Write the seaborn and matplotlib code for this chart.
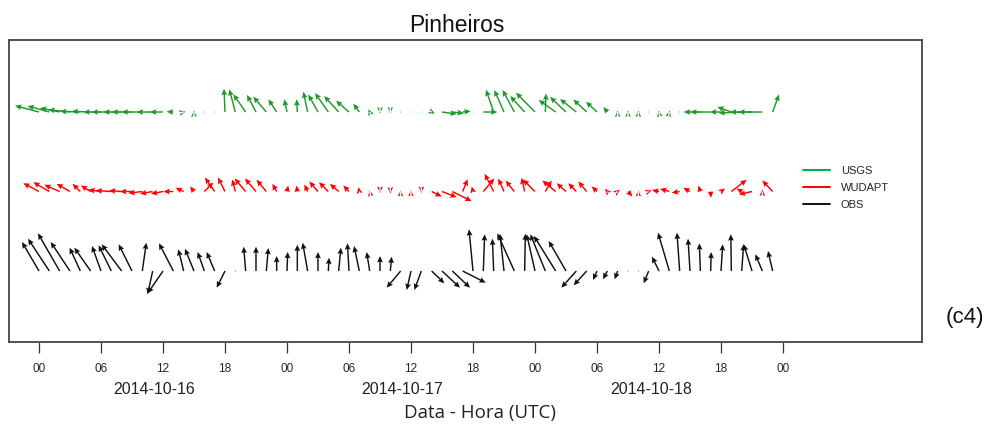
import numpy as np
import pandas as pd
import seaborn as sns
import matplotlib
matplotlib.use("Agg")
import matplotlib.pyplot as plt
import matplotlib.transforms as mtransforms
from matplotlib.lines import Line2D

# Hourly wind vectors at Pinheiros, 2014-10-16 00 UTC .. 2014-10-18 23 UTC
hours = list(range(72))

# OBS (u, v) [m/s]
obs_u = [-1.70, -2.13, -2.17, -1.93, -1.07, -1.63, -0.90, -1.27, -2.00, -1.33,
         0.40, -0.50, -1.53, -1.43, -0.53, -0.90, -0.67, -0.80, -0.83, 0.03,
         -0.20, 0.00, 0.20, 0.00, 0.07, 0.00, -0.50, 0.00, 0.07, 0.23,
         -0.16, -0.53, -0.30, 0.00, 0.13, -1.40, -0.43, -0.70, 1.27, 1.80,
         1.77, 2.30, -0.40, 0.13, -0.13, -0.40, -1.70, 0.07, -0.83, -1.50,
         -2.17, -1.73, -1.50, -1.30, -0.40, -0.43, -0.30, 0.02, 0.02, -0.50,
         -0.70, -1.13, -0.27, -0.20, -0.10, 0.05, 0.17, -0.05, 0.20, -0.83,
         -0.70, -0.47]
obs_v = [2.90, 3.23, 3.77, 2.90, 2.33, 2.33, 2.50, 2.57, 2.67, 2.67,
         2.83, -2.33, -2.23, 2.77, 2.17, 2.23, 1.90, 1.90, -1.67, 0.02,
         2.43, 2.43, 2.30, 1.50, 1.90, 2.63, 2.83, 1.90, 1.33, 2.33,
         2.77, 2.50, 1.90, 1.50, 1.43, -1.67, -1.90, -1.90, -1.23, -1.67,
         -1.67, -1.17, 4.17, 3.67, 3.23, 3.70, 3.77, 3.73, 3.67, 3.67,
         3.50, 3.00, -1.67, -1.43, -0.90, -0.83, -0.83, -0.02, -0.02, -1.23,
         1.43, 3.83, 3.83, 3.23, 2.77, 1.90, 2.67, 3.67, 2.67, 2.67,
         1.67, 2.00]

# WUDAPT (u, v) [m/s]
wudapt_u = [-1.57, -1.60, -1.53, -1.33, -0.77, -0.97, -1.27, -1.57, -1.27, -1.20,
            -1.40, -1.27, -1.20, -1.00, -0.80, -0.40, 0.90, -0.97, -0.70, -0.30,
            -1.10, -1.10, -0.97, -0.43, 0.13, -0.07, -0.33, -0.87, -0.93, -0.87,
            -0.57, -0.10, -0.03, 0.00, 0.00, 0.00, 0.00, 0.00, 1.00, 1.47,
            1.93, 0.50, -0.13, 1.10, -0.90, -0.57, -0.87, -0.30, -1.20, 0.63,
            -1.33, -0.93, -0.80, -0.83, -0.53, -0.23, 0.23, 0.43, 0.00, 0.30,
            -0.70, -0.93, -0.80, -0.67, -0.20, 0.03, 0.40, 1.53, -0.50, -1.30,
            0.00, -1.03]
wudapt_v = [0.83, 0.93, 0.67, 0.77, 0.77, 0.60, 0.17, 0.10, 0.10, 0.00,
            -0.17, -0.23, -0.23, 0.00, 0.37, 0.50, 0.90, 1.40, 1.40, 1.20,
            1.30, 1.30, 1.17, 0.77, 0.60, 0.60, 0.70, 1.00, 0.93, 0.77,
            0.60, 0.43, 0.12, -0.15, -0.20, 0.12, 0.12, -0.15, -0.50, -0.57,
            -0.97, 1.23, 0.50, 1.30, 1.77, 1.30, 1.10, 1.37, 1.20, 1.10,
            1.10, 0.83, 0.83, 1.00, 0.50, 0.27, 0.17, -0.50, 0.12, 0.10,
            0.15, 0.27, -0.13, 0.37, 0.60, -0.63, 0.30, 1.17, 0.30, -0.30,
            0.20, 1.10]

# USGS (u, v) [m/s]
usgs_u = [-2.40, -2.17, -1.97, -2.17, -2.03, -1.90, -1.77, -1.97, -1.83, -2.03,
          -2.07, -1.60, -1.30, -0.67, 0.20, 0.00, 0.02, 0.02, -0.10, -0.60,
          -1.23, -0.90, -1.30, -0.83, -0.27, -0.07, -0.43, -0.97, -1.33, -1.45,
          -1.30, -0.60, -0.13, 0.00, 0.00, 0.02, 0.02, 0.02, 0.32, 1.47,
          1.15, 0.80, 0.02, 1.40, -0.77, -0.97, -1.17, -1.45, -1.90, 0.07,
          -1.70, -1.60, -1.63, -1.33, -1.10, -0.40, 0.00, 0.00, 0.00, 0.02,
          -0.03, 0.03, 0.02, -0.10, -1.00, -2.70, -1.10, -1.40, -2.30, -2.20,
          -2.40, 0.63]
usgs_v = [0.63, 0.60, 0.40, 0.23, 0.07, 0.07, 0.00, 0.00, 0.00, 0.00,
          0.00, 0.00, 0.00, 0.03, 0.05, 0.15, 0.00, 0.00, 2.33, 2.27,
          1.77, 1.70, 1.53, 1.27, 1.27, 1.27, 2.03, 1.75, 1.90, 1.60,
          1.13, 0.83, 0.27, -0.15, -0.12, 0.00, 0.00, 0.00, -0.17, -0.20,
          -0.13, 0.08, 0.00, 0.00, 2.23, 2.20, 2.20, 1.60, 1.93, 1.85,
          1.20, 1.50, 1.30, 1.25, 1.03, 0.50, 0.15, 0.15, 0.15, 0.00,
          0.15, 0.15, 0.00, 0.00, 0.00, 0.00, 0.00, 0.50, -0.10, 0.00,
          0.00, 1.75]

series_names = ["USGS", "WUDAPT", "OBS"]
series_colors = {"USGS": "#1E9A2A", "WUDAPT": "#FF0000", "OBS": "#111111"}
series_rows = {"USGS": 3, "WUDAPT": 2, "OBS": 1}

tick_hours = list(range(0, 73, 6))
tick_labels = ["00", "06", "12", "18"] * 3 + ["00"]
date_labels = ["2014-10-16", "2014-10-17", "2014-10-18"]
date_hours = [11.1, 35.1, 59.2]

frames = []
for name, u, v in [("USGS", usgs_u, usgs_v), ("WUDAPT", wudapt_u, wudapt_v),
                   ("OBS", obs_u, obs_v)]:
    frames.append(pd.DataFrame({"hour": hours, "u": u, "v": v, "model": name}))
df = pd.concat(frames, ignore_index=True)

sns.set_theme(style="white")
plt.rcParams["font.family"] = ["Liberation Sans", "DejaVu Sans"]

fig = plt.figure(figsize=(9.89, 4.26), dpi=100)
W, H = 989, 426
ax = fig.add_axes([8.5 / W, 1 - 342 / H, (922 - 8.5) / W, (342 - 40) / H])

for name in series_names:
    sub = df[df["model"] == name]
    base = np.full(len(sub), series_rows[name], dtype=float)
    ax.quiver(sub["hour"], base, sub["u"], sub["v"],
              angles="uv", scale_units="dots", scale=0.1,
              units="dots", width=1.45, headwidth=4.0, headlength=4.4,
              headaxislength=3.9, minshaft=0.2, minlength=0.7,
              pivot="tail", color=series_colors[name], zorder=3)

ax.set_xlim(-2.95, 85.45)
ax.set_ylim(0.107, 0.107 + 302 / 79.5)
ax.set_yticks([])
ax.set_xticks(tick_hours)
ax.set_xticklabels(tick_labels, fontsize=8.5)
ax.tick_params(axis="x", direction="out", length=8, width=0.9,
               pad=7, color="#333333", bottom=True)
for sp in ax.spines.values():
    sp.set_visible(True)
    sp.set_color("#444444")
    sp.set_linewidth(1.3)

trans = mtransforms.blended_transform_factory(ax.transData, fig.transFigure)
for lab, hx in zip(date_labels, date_hours):
    ax.text(hx, 1 - 390 / H, lab, transform=trans, ha="center", va="center",
            fontsize=11.5, color="#222222")

fig.text(480 / W, 1 - 413 / H, "Data - Hora (UTC)", ha="center", va="center",
         fontsize=13.5, family=["Open Sans", "DejaVu Sans"], color="#222222")
fig.text(456.7 / W, 1 - 31.7 / H, "Pinheiros", ha="center", va="baseline",
         fontsize=16.5, color="#111111")
fig.text(964.5 / W, 1 - 317 / H, "(c4)", ha="center", va="center",
         fontsize=16, color="#111111")

handles = [Line2D([], [], color=series_colors[n], lw=1.4) for n in series_names]
handles[0].set_color("#00A84F")
fig.legend(handles, series_names, loc="upper left",
           bbox_to_anchor=(803 / W, 1 - 166 / H), frameon=False,
           fontsize=8, handlelength=2.4, handletextpad=1.0,
           labelspacing=0.62, borderpad=0.0, borderaxespad=0.0)

fig.savefig("out.png", dpi=100)
